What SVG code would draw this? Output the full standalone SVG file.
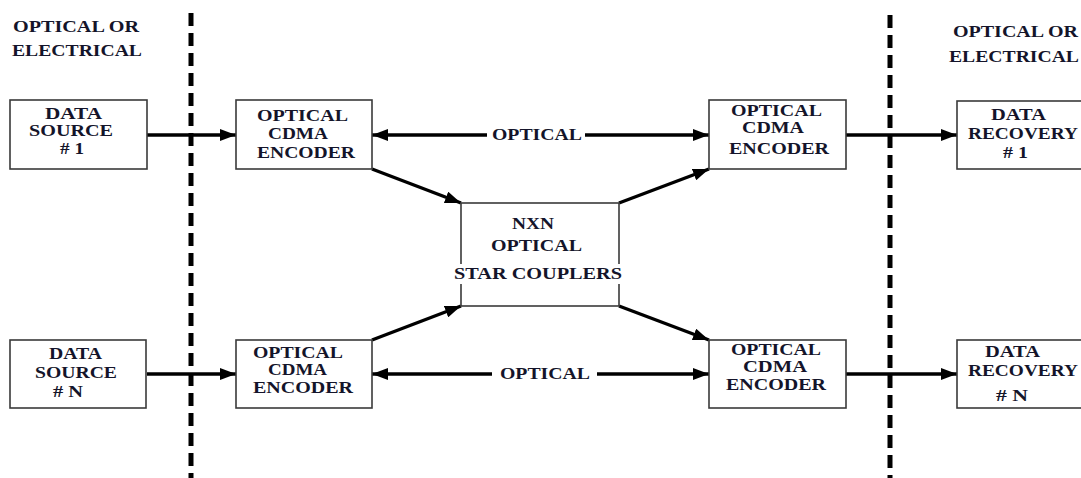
<svg xmlns="http://www.w3.org/2000/svg" width="1081" height="478" viewBox="0 0 1081 478">
<defs>
<style>
.box{fill:#fff;stroke:#3a3a3a;stroke-width:1.6}
.t{font-family:"Liberation Serif","Times New Roman","DejaVu Serif",serif;font-weight:bold;font-size:16.5px;fill:#14142a;text-anchor:start}
.c{stroke:#000;stroke-width:3.4;fill:none}
.dash{stroke:#000;stroke-width:5;stroke-dasharray:13 7}
</style>
<marker id="ah" viewBox="0 0 16 12" refX="16" refY="6" markerWidth="16" markerHeight="12" markerUnits="userSpaceOnUse" orient="auto-start-reverse">
<path d="M0,0 L16,6 L0,12 z" fill="#000"/>
</marker>
</defs>
<rect width="1081" height="478" fill="#fff"/>

<g id="dividers">
<line class="dash" x1="191" y1="13" x2="191" y2="478"/>
<line class="dash" x1="890" y1="15" x2="890" y2="478"/>
</g>

<g id="labels">
<text class="t" x="13" y="32" textLength="126" lengthAdjust="spacingAndGlyphs">OPTICAL OR</text>
<text class="t" x="12" y="56" textLength="130" lengthAdjust="spacingAndGlyphs">ELECTRICAL</text>
<text class="t" x="953" y="37" textLength="125" lengthAdjust="spacingAndGlyphs">OPTICAL OR</text>
<text class="t" x="949" y="62" textLength="130" lengthAdjust="spacingAndGlyphs">ELECTRICAL</text>
</g>

<g id="connectors">
<line class="c" x1="147" y1="135" x2="236" y2="135" marker-end="url(#ah)"/>
<line class="c" x1="846" y1="135" x2="957" y2="135" marker-end="url(#ah)"/>
<line class="c" x1="147" y1="374" x2="236" y2="374" marker-end="url(#ah)"/>
<line class="c" x1="846" y1="374" x2="957" y2="374" marker-end="url(#ah)"/>
<line class="c" x1="487" y1="135" x2="372" y2="135" marker-end="url(#ah)"/>
<line class="c" x1="585" y1="135" x2="709" y2="135" marker-end="url(#ah)"/>
<line class="c" x1="492" y1="374" x2="372" y2="374" marker-end="url(#ah)"/>
<line class="c" x1="597" y1="374" x2="709" y2="374" marker-end="url(#ah)"/>
<line class="c" x1="372" y1="169" x2="461" y2="203" marker-end="url(#ah)"/>
<line class="c" x1="619" y1="203" x2="709" y2="169" marker-end="url(#ah)"/>
<line class="c" x1="372" y1="340" x2="461" y2="306" marker-end="url(#ah)"/>
<line class="c" x1="619" y1="306" x2="709" y2="340" marker-end="url(#ah)"/>
<text class="t" x="492" y="140" textLength="90" lengthAdjust="spacingAndGlyphs">OPTICAL</text>
<text class="t" x="500" y="379" textLength="90" lengthAdjust="spacingAndGlyphs">OPTICAL</text>
</g>

<g id="source1">
<rect class="box" x="10" y="100" width="137" height="69"/>
<text class="t" x="45" y="119" textLength="57" lengthAdjust="spacingAndGlyphs">DATA</text>
<text class="t" x="29" y="136" textLength="84" lengthAdjust="spacingAndGlyphs">SOURCE</text>
<text class="t" x="60" y="154" textLength="24" lengthAdjust="spacingAndGlyphs"># 1</text>
</g>

<g id="encoder1">
<rect class="box" x="236" y="100" width="136" height="69"/>
<text class="t" x="257" y="121" textLength="91" lengthAdjust="spacingAndGlyphs">OPTICAL</text>
<text class="t" x="268" y="139" textLength="60" lengthAdjust="spacingAndGlyphs">CDMA</text>
<text class="t" x="257" y="158" textLength="98" lengthAdjust="spacingAndGlyphs">ENCODER</text>
</g>

<g id="encoder1r">
<rect class="box" x="709" y="100" width="137" height="69"/>
<text class="t" x="731" y="116" textLength="91" lengthAdjust="spacingAndGlyphs">OPTICAL</text>
<text class="t" x="742" y="133" textLength="62" lengthAdjust="spacingAndGlyphs">CDMA</text>
<text class="t" x="729" y="154" textLength="100" lengthAdjust="spacingAndGlyphs">ENCODER</text>
</g>

<g id="recovery1">
<rect class="box" x="957" y="101" width="140" height="68"/>
<text class="t" x="991" y="120" textLength="55" lengthAdjust="spacingAndGlyphs">DATA</text>
<text class="t" x="968" y="139" textLength="110" lengthAdjust="spacingAndGlyphs">RECOVERY</text>
<text class="t" x="1003" y="158" textLength="25" lengthAdjust="spacingAndGlyphs"># 1</text>
</g>

<g id="star">
<rect class="box" x="461" y="203" width="158" height="103"/>
<rect x="452" y="264" width="174" height="20" fill="#fff"/>
<text class="t" x="512" y="229" textLength="42" lengthAdjust="spacingAndGlyphs">NXN</text>
<text class="t" x="491" y="251" textLength="91" lengthAdjust="spacingAndGlyphs">OPTICAL</text>
<text class="t" x="454" y="279" textLength="168" lengthAdjust="spacingAndGlyphs">STAR COUPLERS</text>
</g>

<g id="sourceN">
<rect class="box" x="10" y="340" width="136" height="68"/>
<text class="t" x="49" y="359" textLength="53" lengthAdjust="spacingAndGlyphs">DATA</text>
<text class="t" x="35" y="378" textLength="82" lengthAdjust="spacingAndGlyphs">SOURCE</text>
<text class="t" x="53" y="397" textLength="30" lengthAdjust="spacingAndGlyphs"># N</text>
</g>

<g id="encoderN">
<rect class="box" x="236" y="340" width="136" height="68"/>
<text class="t" x="253" y="358" textLength="90" lengthAdjust="spacingAndGlyphs">OPTICAL</text>
<text class="t" x="268" y="375" textLength="59" lengthAdjust="spacingAndGlyphs">CDMA</text>
<text class="t" x="253" y="393" textLength="100" lengthAdjust="spacingAndGlyphs">ENCODER</text>
</g>

<g id="encoderNr">
<rect class="box" x="709" y="340" width="137" height="68"/>
<text class="t" x="731" y="355" textLength="90" lengthAdjust="spacingAndGlyphs">OPTICAL</text>
<text class="t" x="743" y="372" textLength="64" lengthAdjust="spacingAndGlyphs">CDMA</text>
<text class="t" x="726" y="390" textLength="100" lengthAdjust="spacingAndGlyphs">ENCODER</text>
</g>

<g id="recoveryN">
<rect class="box" x="957" y="340" width="140" height="68"/>
<text class="t" x="985" y="357" textLength="55" lengthAdjust="spacingAndGlyphs">DATA</text>
<text class="t" x="968" y="376" textLength="110" lengthAdjust="spacingAndGlyphs">RECOVERY</text>
<text class="t" x="996" y="401" textLength="32" lengthAdjust="spacingAndGlyphs"># N</text>
</g>
</svg>
